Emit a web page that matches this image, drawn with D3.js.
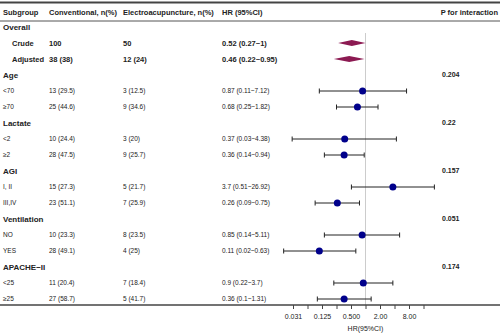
<!DOCTYPE html>
<html>
<head>
<meta charset="utf-8">
<script src="https://cdn.jsdelivr.net/npm/d3@7"></script>
<style>
  body { margin: 0; background: #fff; }
  text { font-family: "Liberation Sans", Arial, sans-serif; fill: #222; }
</style>
</head>
<body>
<div id="chart"></div>
<script>
//table data, one entry per row
let subgroups = ["Overall", "Crude", "Adjusted", "Age", "<70", "≥70", "Lactate", "<2", "≥2",
    "AGI", "I, II", "III,IV", "Ventilation", "NO", "YES", "APACHE−II", "<25", "≥25"];
let rowKind = ["group", "total", "total", "group", "item", "item", "group", "item", "item",
    "group", "item", "item", "group", "item", "item", "group", "item", "item"];
let conventional = ["", "100", "38 (38)", "", "13 (29.5)", "25 (44.6)", "", "10 (24.4)", "28 (47.5)",
    "", "15 (27.3)", "23 (51.1)", "", "10 (23.3)", "28 (49.1)", "", "11 (20.4)", "27 (58.7)"];
let electro = ["", "50", "12 (24)", "", "3 (12.5)", "9 (34.6)", "", "3 (20)", "9 (25.7)",
    "", "5 (21.7)", "7 (25.9)", "", "8 (23.5)", "4 (25)", "", "7 (18.4)", "5 (41.7)"];
let hr = [null, 0.52, 0.46, null, 0.87, 0.68, null, 0.37, 0.36, null, 3.7, 0.26, null, 0.85, 0.11, null, 0.9, 0.36];
let lower = [null, 0.27, 0.22, null, 0.11, 0.25, null, 0.03, 0.14, null, 0.51, 0.09, null, 0.14, 0.02, null, 0.22, 0.1];
let upper = [null, 1, 0.95, null, 7.12, 1.82, null, 4.38, 0.94, null, 26.92, 0.75, null, 5.11, 0.63, null, 3.7, 1.31];
let pInteraction = ["", "", "", "0.204", "", "", "0.22", "", "", "0.157", "", "", "0.051", "", "", "0.174", "", ""];

//axis ticks (log2 scale)
let tickValues = [1/32, 1/16, 1/8, 1/4, 1/2, 1, 2, 4, 8, 16];
let tickLabels = ["0.031", "", "0.125", "", "0.500", "", "2.00", "", "8.00", ""];

let svgWidth = 500;
let svgHeight = 335;

let svg = d3.select("#chart")
    .append("svg")
    .attr("width", svgWidth)
    .attr("height", svgHeight);

//row positions
let y = d3.scalePoint().domain(d3.range(subgroups.length)).range([27, 299]);
//HR scale
let x = d3.scaleLog().base(2).domain([1/32, 16]).range([293, 423.5]);

let axisY = 305;

//header
svg.append("line").attr("x1", 0).attr("x2", svgWidth).attr("y1", 2.5).attr("y2", 2.5)
    .attr("stroke", "#444").attr("stroke-width", 2);
svg.append("line").attr("x1", 0).attr("x2", svgWidth).attr("y1", 21).attr("y2", 21)
    .attr("stroke", "#555").attr("stroke-width", 1);

let headers = [
    { t: "Subgroup", x: 3, a: "start" },
    { t: "Conventional, n(%)", x: 49, a: "start" },
    { t: "Electroacupuncture, n(%)", x: 123, a: "start" },
    { t: "HR (95%CI)", x: 222, a: "start" },
    { t: "P for interaction", x: 498, a: "end" }
];
svg.selectAll("text.head")
    .data(headers)
    .enter()
    .append("text")
    .attr("class", "head")
    .attr("x", d => d.x)
    .attr("y", 12)
    .attr("dy", "0.35em")
    .attr("text-anchor", d => d.a)
    .style("font-size", "7.5px")
    .style("font-weight", "bold")
    .text(d => d.t);

//reference line at HR = 1
svg.append("line")
    .attr("x1", x(1)).attr("x2", x(1))
    .attr("y1", 33).attr("y2", axisY)
    .attr("stroke", "#ccc").attr("stroke-width", 1);

//table rows
let rows = svg.selectAll("g.row")
    .data(subgroups.map((s, i) => i))
    .enter()
    .append("g")
    .attr("class", "row")
    .attr("transform", i => "translate(0," + y(i) + ")");

function fontSize(i) {
    if (rowKind[i] == "group") return "8px";
    if (rowKind[i] == "total") return "7.5px";
    return "6.5px";
}
function fontWeight(i) { return rowKind[i] == "item" ? "normal" : "bold"; }

rows.append("text")
    .attr("x", i => rowKind[i] == "total" ? 12 : 3)
    .attr("dy", "0.35em")
    .style("font-size", fontSize)
    .style("font-weight", fontWeight)
    .text(i => subgroups[i]);

rows.append("text")
    .attr("x", 49)
    .attr("dy", "0.35em")
    .style("font-size", fontSize)
    .style("font-weight", fontWeight)
    .text(i => conventional[i]);

rows.append("text")
    .attr("x", 123)
    .attr("dy", "0.35em")
    .style("font-size", fontSize)
    .style("font-weight", fontWeight)
    .text(i => electro[i]);

rows.append("text")
    .attr("x", 222)
    .attr("dy", "0.35em")
    .style("font-size", fontSize)
    .style("font-weight", fontWeight)
    .text(i => hr[i] == null ? "" : hr[i] + " (" + lower[i] + "~" + upper[i] + ")");

rows.append("text")
    .attr("x", 442)
    .attr("dy", "0.35em")
    .style("font-size", "7px")
    .style("font-weight", "bold")
    .text(i => pInteraction[i]);

//overall estimates as diamonds
rows.filter(i => rowKind[i] == "total")
    .append("path")
    .attr("d", i => "M" + x(lower[i]) + ",0L" + x(hr[i]) + ",-3L" + x(upper[i]) + ",0L" + x(hr[i]) + ",3Z")
    .attr("fill", "#8c1a52");

//subgroup CIs
let items = rows.filter(i => rowKind[i] == "item");
items.append("line")
    .attr("x1", i => x(lower[i])).attr("x2", i => x(upper[i]))
    .attr("stroke", "#222").attr("stroke-width", 1);
items.append("line")
    .attr("x1", i => x(lower[i])).attr("x2", i => x(lower[i]))
    .attr("y1", -2.5).attr("y2", 2.5)
    .attr("stroke", "#222").attr("stroke-width", 1);
items.append("line")
    .attr("x1", i => x(upper[i])).attr("x2", i => x(upper[i]))
    .attr("y1", -2.5).attr("y2", 2.5)
    .attr("stroke", "#222").attr("stroke-width", 1);
items.append("circle")
    .attr("cx", i => x(hr[i]))
    .attr("r", 3.5)
    .attr("fill", "#00008b");

//bottom line + axis
svg.append("line").attr("x1", 0).attr("x2", svgWidth).attr("y1", axisY).attr("y2", axisY)
    .attr("stroke", "#444").attr("stroke-width", 1.5);

let xAxis = d3.axisBottom(x)
    .tickValues(tickValues)
    .tickFormat((d, i) => tickLabels[i])
    .tickSize(4)
    .tickPadding(5);

let axisG = svg.append("g")
    .attr("transform", "translate(0," + axisY + ")")
    .call(xAxis);
axisG.select(".domain").remove();
axisG.selectAll(".tick line").attr("stroke", "#444");
axisG.selectAll(".tick text")
    .style("font-size", "7px")
    .style("font-family", "Liberation Sans, Arial, sans-serif")
    .attr("fill", "#222");

svg.append("text")
    .attr("x", x(1))
    .attr("y", 331)
    .attr("text-anchor", "middle")
    .style("font-size", "7px")
    .text("HR(95%CI)");
</script>
</body>
</html>
